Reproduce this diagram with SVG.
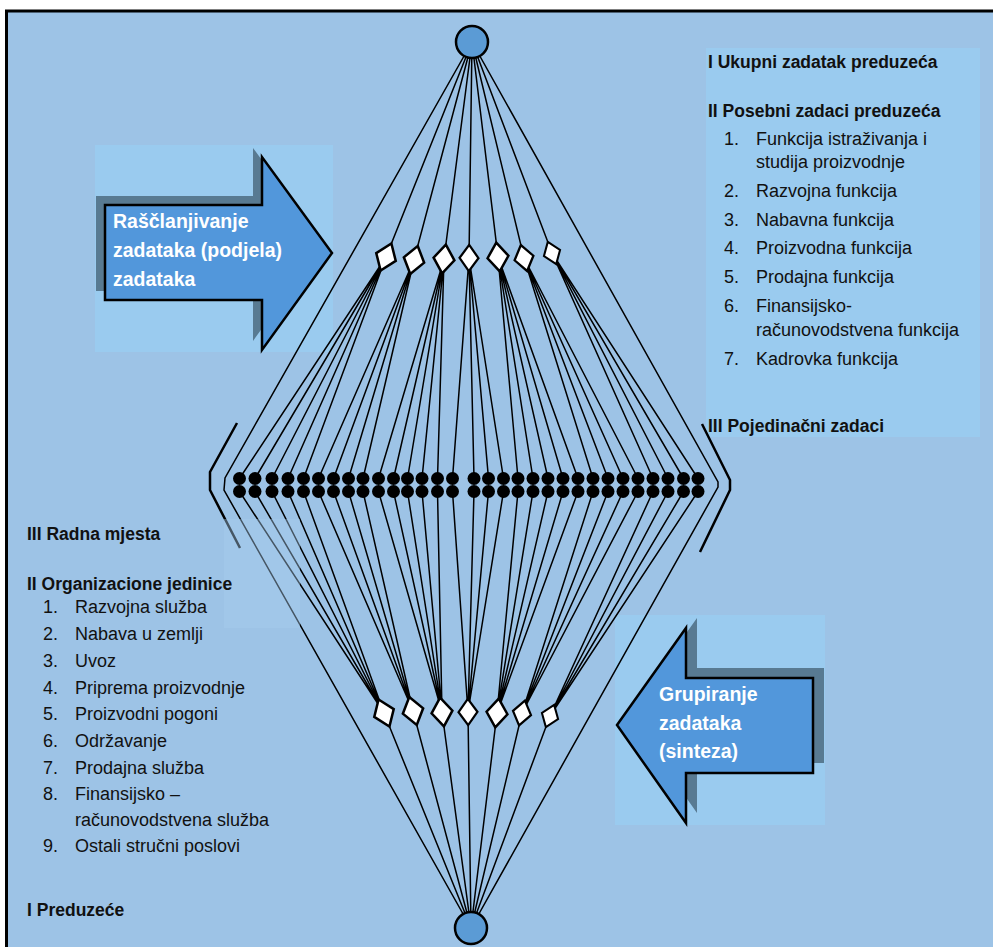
<svg xmlns="http://www.w3.org/2000/svg" width="993" height="947" viewBox="0 0 993 947">
  <style>
    .bg { fill: #9DC3E6; stroke: #000; stroke-width: 3; }
    .panel { fill: #9ACBEF; }
    .ln { fill: none; stroke: #000; stroke-width: 1.5; }
    .br { fill: none; stroke: #000; stroke-width: 2.5; stroke-linejoin: miter; }
    .hub { fill: #5B9BD5; stroke: #000; stroke-width: 2.5; }
    .dm { fill: #fff; stroke: #000; stroke-width: 2.5; stroke-linejoin: miter; }
    .dot { fill: #000; }
    .arrow { fill: #5297DB; stroke: #000; stroke-width: 2.5; stroke-linejoin: miter; }
    .shadow { fill: #587A92; }
    text { font-family: 'Liberation Sans', Arial, sans-serif; fill: #111; }
    .b { font-weight: bold; font-size: 17.5px; }
    .r { font-size: 18px; }
    .at { font-weight: bold; font-size: 19.5px; fill: #fff; }
  </style>
  <defs>
    <polygon id="rhomb" points="0,-14.5 10.5,0 0,14.5 -10.5,0"/>
  </defs>

  <!-- framed background -->
  <rect class="bg" x="6.5" y="11" width="1000" height="950"/>

  <!-- light panels -->
  <rect class="panel" x="95" y="145" width="238" height="207"/>
  <rect class="panel" x="706" y="48" width="274" height="389"/>
  <rect class="panel" x="615" y="615" width="210" height="210"/>

  <!-- connectors -->
  <g id="connectors">
    <!-- top hub to upper rhombi -->
    <path class="ln" d="M472,42 L386,257 M472,42 L414,260 M472,42 L444,259 M472,42 L469,258 M472,42 L498,257 M472,42 L524,258 M472,42 L552,253"/>
    <!-- outer paths through the chevron points -->
    <path class="ln" d="M472,42 L225,478 L224,490 L471,928"/>
    <path class="ln" d="M472,42 L718,482 L718,487 L471,928"/>
    <!-- upper rhombi to upper row of tasks -->
    <path class="ln" d="M386,257 L239.5,478.5 M386,257 L255,478.5 M386,257 L272,478.5 M386,257 L288,478.5 M386,257 L303.5,478.5"/>
    <path class="ln" d="M414,260 L318.5,478.5 M414,260 L333.5,478.5 M414,260 L348.5,478.5 M414,260 L363,478.5"/>
    <path class="ln" d="M444,259 L378.5,478.5 M444,259 L393.5,478.5 M444,259 L407.5,478.5 M444,259 L422,478.5 M444,259 L437.5,478.5"/>
    <path class="ln" d="M469,258 L452.5,478.5 M469,258 L474,478.5 M469,258 L488.5,478.5 M469,258 L503.5,478.5"/>
    <path class="ln" d="M498,257 L518,478.5 M498,257 L533,478.5 M498,257 L548,478.5 M498,257 L563,478.5 M498,257 L578,478.5"/>
    <path class="ln" d="M524,258 L593,478.5 M524,258 L608,478.5 M524,258 L623,478.5 M524,258 L638,478.5"/>
    <path class="ln" d="M552,253 L653,478.5 M552,253 L668,478.5 M552,253 L683.5,478.5 M552,253 L698,478.5"/>
    <!-- lower row of tasks to lower rhombi -->
    <path class="ln" d="M239.5,491.5 L384,713 M255,491.5 L384,713 M272,491.5 L384,713 M288,491.5 L384,713 M303.5,491.5 L384,713"/>
    <path class="ln" d="M318.5,491.5 L413,711 M333.5,491.5 L413,711 M348.5,491.5 L413,711 M363,491.5 L413,711"/>
    <path class="ln" d="M378.5,491.5 L442,712 M393.5,491.5 L442,712 M407.5,491.5 L442,712 M422,491.5 L442,712 M437.5,491.5 L442,712"/>
    <path class="ln" d="M452.5,491.5 L468,712 M474,491.5 L468,712 M488.5,491.5 L468,712 M503.5,491.5 L468,712"/>
    <path class="ln" d="M518,491.5 L497,713 M533,491.5 L497,713 M548,491.5 L497,713 M563,491.5 L497,713 M578,491.5 L497,713"/>
    <path class="ln" d="M593,491.5 L522,713 M608,491.5 L522,713 M623,491.5 L522,713 M638,491.5 L522,713"/>
    <path class="ln" d="M653,491.5 L550,716 M668,491.5 L550,716 M683.5,491.5 L550,716 M698,491.5 L550,716"/>
    <!-- lower rhombi to bottom hub -->
    <path class="ln" d="M384,713 L471,928 M413,711 L471,928 M442,712 L471,928 M468,712 L471,928 M497,713 L471,928 M522,713 L471,928 M550,716 L471,928"/>
  </g>

  <!-- side brackets -->
  <g id="brackets">
    <polyline class="br" points="237,423 210,472 210,490 240,548"/>
    <polyline class="br" points="702,424 730,480 730,490 700,552"/>
  </g>

  <!-- hubs -->
  <g id="node-top"><circle class="hub" cx="472" cy="42" r="16"/></g>
  <g id="node-bottom"><circle class="hub" cx="471" cy="928" r="16"/></g>

  <!-- upper rhombi -->
  <g id="upper-rhombi">
    <use href="#rhomb" class="dm" transform="translate(386,257) rotate(21.8)"/>
    <use href="#rhomb" class="dm" transform="translate(414,260) rotate(14.9)"/>
    <use href="#rhomb" class="dm" transform="translate(444,259) rotate(7.4)"/>
    <use href="#rhomb" class="dm" transform="translate(469,258) rotate(0.8) scale(0.9)"/>
    <use href="#rhomb" class="dm" transform="translate(498,257) rotate(-6.9)"/>
    <use href="#rhomb" class="dm" transform="translate(524,258) rotate(-13.5) scale(0.92)"/>
    <use href="#rhomb" class="dm" transform="translate(552,253) rotate(-20.8) scale(0.82)"/>
  </g>

  <!-- lower rhombi -->
  <g id="lower-rhombi">
    <use href="#rhomb" class="dm" transform="translate(384,713) rotate(-22)"/>
    <use href="#rhomb" class="dm" transform="translate(413,711) rotate(-15)"/>
    <use href="#rhomb" class="dm" transform="translate(442,712) rotate(-7.6)"/>
    <use href="#rhomb" class="dm" transform="translate(468,712) rotate(-0.8) scale(0.9)"/>
    <use href="#rhomb" class="dm" transform="translate(497,713) rotate(6.9)"/>
    <use href="#rhomb" class="dm" transform="translate(522,713) rotate(13.3) scale(0.88)"/>
    <use href="#rhomb" class="dm" transform="translate(550,716) rotate(20.4) scale(0.82)"/>
  </g>

  <!-- individual tasks: two rows of dots -->
  <g id="tasks">
    <g class="dot">
      <circle cx="239.5" cy="478.5" r="6.5"/><circle cx="255" cy="478.5" r="6.5"/><circle cx="272" cy="478.5" r="6.5"/>
      <circle cx="288" cy="478.5" r="6.5"/><circle cx="303.5" cy="478.5" r="6.5"/><circle cx="318.5" cy="478.5" r="6.5"/>
      <circle cx="333.5" cy="478.5" r="6.5"/><circle cx="348.5" cy="478.5" r="6.5"/><circle cx="363" cy="478.5" r="6.5"/>
      <circle cx="378.5" cy="478.5" r="6.5"/><circle cx="393.5" cy="478.5" r="6.5"/><circle cx="407.5" cy="478.5" r="6.5"/>
      <circle cx="422" cy="478.5" r="6.5"/><circle cx="437.5" cy="478.5" r="6.5"/><circle cx="452.5" cy="478.5" r="6.5"/>
      <circle cx="474" cy="478.5" r="6.5"/><circle cx="488.5" cy="478.5" r="6.5"/><circle cx="503.5" cy="478.5" r="6.5"/>
      <circle cx="518" cy="478.5" r="6.5"/><circle cx="533" cy="478.5" r="6.5"/><circle cx="548" cy="478.5" r="6.5"/>
      <circle cx="563" cy="478.5" r="6.5"/><circle cx="578" cy="478.5" r="6.5"/><circle cx="593" cy="478.5" r="6.5"/>
      <circle cx="608" cy="478.5" r="6.5"/><circle cx="623" cy="478.5" r="6.5"/><circle cx="638" cy="478.5" r="6.5"/>
      <circle cx="653" cy="478.5" r="6.5"/><circle cx="668" cy="478.5" r="6.5"/><circle cx="683.5" cy="478.5" r="6.5"/>
      <circle cx="698" cy="478.5" r="6.5"/>
    </g>
    <g class="dot">
      <circle cx="239.5" cy="491.5" r="6.5"/><circle cx="255" cy="491.5" r="6.5"/><circle cx="272" cy="491.5" r="6.5"/>
      <circle cx="288" cy="491.5" r="6.5"/><circle cx="303.5" cy="491.5" r="6.5"/><circle cx="318.5" cy="491.5" r="6.5"/>
      <circle cx="333.5" cy="491.5" r="6.5"/><circle cx="348.5" cy="491.5" r="6.5"/><circle cx="363" cy="491.5" r="6.5"/>
      <circle cx="378.5" cy="491.5" r="6.5"/><circle cx="393.5" cy="491.5" r="6.5"/><circle cx="407.5" cy="491.5" r="6.5"/>
      <circle cx="422" cy="491.5" r="6.5"/><circle cx="437.5" cy="491.5" r="6.5"/><circle cx="452.5" cy="491.5" r="6.5"/>
      <circle cx="474" cy="491.5" r="6.5"/><circle cx="488.5" cy="491.5" r="6.5"/><circle cx="503.5" cy="491.5" r="6.5"/>
      <circle cx="518" cy="491.5" r="6.5"/><circle cx="533" cy="491.5" r="6.5"/><circle cx="548" cy="491.5" r="6.5"/>
      <circle cx="563" cy="491.5" r="6.5"/><circle cx="578" cy="491.5" r="6.5"/><circle cx="593" cy="491.5" r="6.5"/>
      <circle cx="608" cy="491.5" r="6.5"/><circle cx="623" cy="491.5" r="6.5"/><circle cx="638" cy="491.5" r="6.5"/>
      <circle cx="653" cy="491.5" r="6.5"/><circle cx="668" cy="491.5" r="6.5"/><circle cx="683.5" cy="491.5" r="6.5"/>
      <circle cx="698" cy="491.5" r="6.5"/>
    </g>
  </g>

  <!-- tinted patch over the lower-left lines -->
  <rect x="224" y="519" width="76" height="109" fill="#A6CCEE" fill-opacity="0.42"/>

  <!-- analysis arrow (pointing right) -->
  <g id="arrow-analysis">
    <polygon class="shadow" transform="translate(-9,-9)" points="105,205 262,205 262,157 332,253 262,350 262,300 105,300"/>
    <polygon class="arrow" points="105,205 262,205 262,157 332,253 262,350 262,300 105,300"/>
    <text class="at" x="113" y="228">Raščlanjivanje</text>
    <text class="at" x="113" y="257">zadataka (podjela)</text>
    <text class="at" x="113" y="286">zadataka</text>
  </g>

  <!-- synthesis arrow (pointing left) -->
  <g id="arrow-synthesis">
    <polygon class="shadow" transform="translate(11,-10)" points="617,725 686,628 686,678 813,678 813,773 686,773 686,823"/>
    <polygon class="arrow" points="617,725 686,628 686,678 813,678 813,773 686,773 686,823"/>
    <text class="at" x="659" y="701">Grupiranje</text>
    <text class="at" x="659" y="730">zadataka</text>
    <text class="at" x="659" y="758">(sinteza)</text>
  </g>

  <!-- task levels (right) -->
  <g id="legend-tasks">
    <text class="b" x="708" y="68">I Ukupni zadatak preduzeća</text>
    <text class="b" x="708" y="117">II Posebni zadaci preduzeća</text>
    <text class="r" x="724" y="145">1.</text><text class="r" x="756" y="145">Funkcija istraživanja i</text>
    <text class="r" x="756" y="168">studija proizvodnje</text>
    <text class="r" x="724" y="197">2.</text><text class="r" x="756" y="197">Razvojna funkcija</text>
    <text class="r" x="724" y="226">3.</text><text class="r" x="756" y="226">Nabavna funkcija</text>
    <text class="r" x="724" y="254">4.</text><text class="r" x="756" y="254">Proizvodna funkcija</text>
    <text class="r" x="724" y="283">5.</text><text class="r" x="756" y="283">Prodajna funkcija</text>
    <text class="r" x="724" y="312">6.</text><text class="r" x="756" y="312">Finansijsko-</text>
    <text class="r" x="756" y="336">računovodstvena funkcija</text>
    <text class="r" x="724" y="365">7.</text><text class="r" x="756" y="365">Kadrovka funkcija</text>
    <text class="b" x="708" y="432">III Pojedinačni zadaci</text>
  </g>

  <!-- organisation levels (left) -->
  <g id="legend-units">
    <text class="b" x="27" y="540">III Radna mjesta</text>
    <text class="b" x="27" y="590">II Organizacione jedinice</text>
    <text class="r" x="43" y="613">1.</text><text class="r" x="75" y="613">Razvojna služba</text>
    <text class="r" x="43" y="640">2.</text><text class="r" x="75" y="640">Nabava u zemlji</text>
    <text class="r" x="43" y="667">3.</text><text class="r" x="75" y="667">Uvoz</text>
    <text class="r" x="43" y="694">4.</text><text class="r" x="75" y="694">Priprema proizvodnje</text>
    <text class="r" x="43" y="720">5.</text><text class="r" x="75" y="720">Proizvodni pogoni</text>
    <text class="r" x="43" y="747">6.</text><text class="r" x="75" y="747">Održavanje</text>
    <text class="r" x="43" y="774">7.</text><text class="r" x="75" y="774">Prodajna služba</text>
    <text class="r" x="43" y="800">8.</text><text class="r" x="75" y="800">Finansijsko –</text>
    <text class="r" x="75" y="826">računovodstvena služba</text>
    <text class="r" x="43" y="852">9.</text><text class="r" x="75" y="852">Ostali stručni poslovi</text>
    <text class="b" x="27" y="916">I Preduzeće</text>
  </g>
</svg>
